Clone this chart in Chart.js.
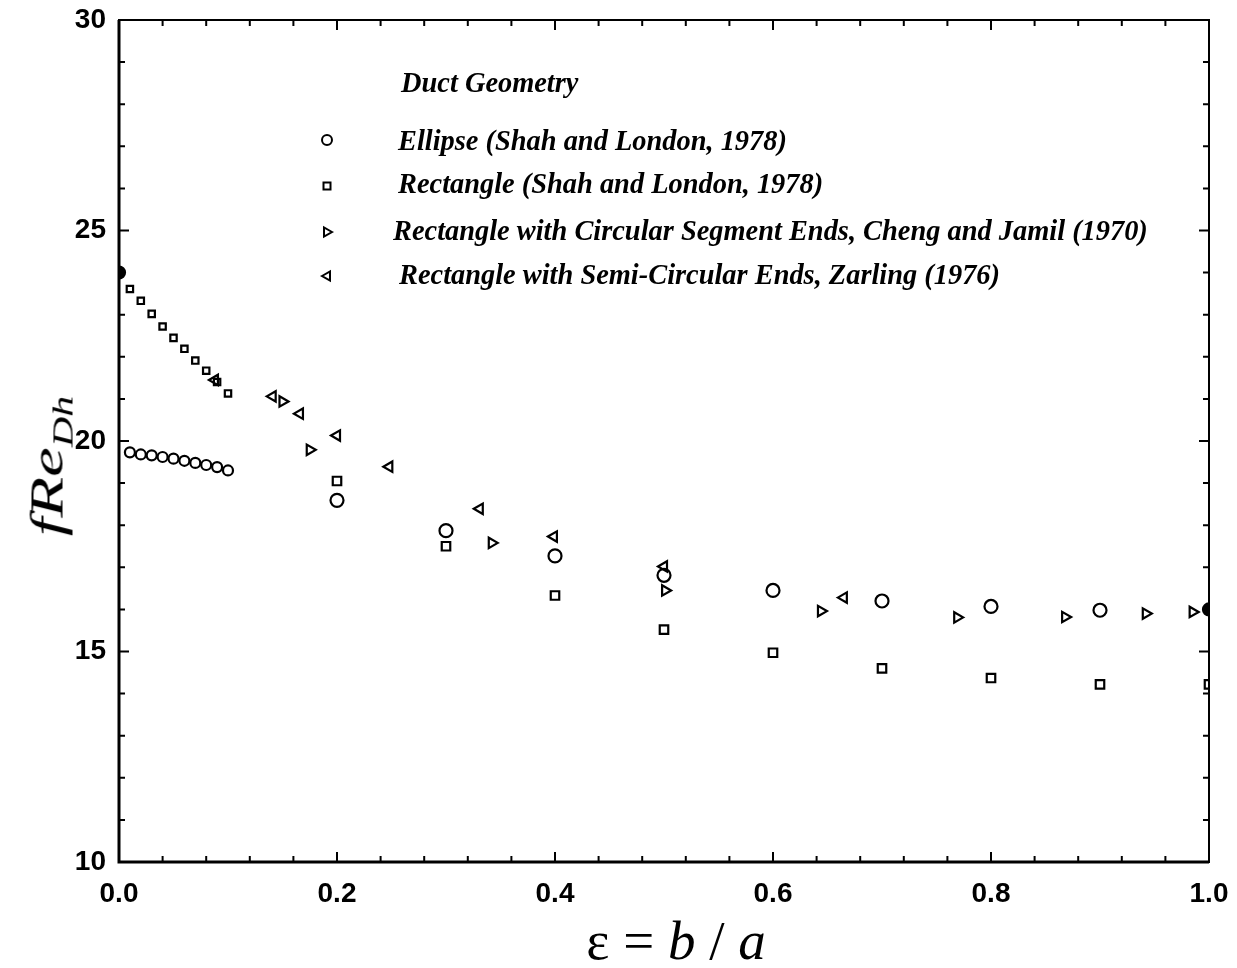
<!DOCTYPE html>
<html>
<head>
<meta charset="utf-8">
<script src="https://cdn.jsdelivr.net/npm/chart.js@4/dist/chart.umd.min.js"></script>
<style>
  body { margin: 0; background: #fff; }
  #wrap { position: relative; width: 1237px; height: 968px; }
  .leg { position: absolute; font: italic bold 28.4px "Liberation Serif", serif; line-height: 30px; white-space: nowrap; color: #000; }
  #ytitle { position: absolute; left: 50px; top: 466px; white-space: nowrap;
    font: italic 46px "Liberation Serif", serif; transform: translate(-50%, -50%) rotate(-90deg) scale(1.45, 1); }
  #ytitle sub { font-size: 29px; vertical-align: -10px; }
  #xtitle { position: absolute; left: 676px; top: 940px; white-space: nowrap;
    font: 55px "Liberation Serif", serif; transform: translate(-50%, -50%); }
</style>
</head>
<body>
<div id="wrap">
  <canvas id="chart"></canvas>
  <div class="leg" style="left:401px; top:68px;">Duct Geometry</div>
  <div class="leg" style="left:398px; top:126px;">Ellipse (Shah and London, 1978)</div>
  <div class="leg" style="left:398px; top:169px;">Rectangle (Shah and London, 1978)</div>
  <div class="leg" style="left:393px; top:216px;">Rectangle with Circular Segment Ends, Cheng and Jamil (1970)</div>
  <div class="leg" style="left:399px; top:260px;">Rectangle with Semi-Circular Ends, Zarling (1976)</div>
  <div id="ytitle"><i>fRe</i><sub><i>Dh</i></sub></div>
  <div id="xtitle">ε = <i>b</i> / <i>a</i></div>
</div>
<script>
// données
const ellipseX = [0.01, 0.02, 0.03, 0.04, 0.05, 0.06, 0.07, 0.08, 0.09, 0.10, 0.2, 0.3, 0.4, 0.5, 0.6, 0.7, 0.8, 0.9];
const ellipseY = [19.73, 19.68, 19.66, 19.62, 19.58, 19.53, 19.48, 19.43, 19.38, 19.30, 18.59, 17.87, 17.27, 16.81, 16.45, 16.20, 16.07, 15.98];

const rectX = [0.01, 0.02, 0.03, 0.04, 0.05, 0.06, 0.07, 0.08, 0.09, 0.10, 0.2, 0.3, 0.4, 0.5, 0.6, 0.7, 0.8, 0.9, 1.0];
const rectY = [23.61, 23.33, 23.02, 22.72, 22.45, 22.19, 21.91, 21.67, 21.40, 21.13, 19.05, 17.50, 16.33, 15.52, 14.97, 14.60, 14.37, 14.22, 14.22];

const chengX = [0.150, 0.175, 0.342, 0.501, 0.644, 0.769, 0.868, 0.942, 0.985];
const chengY = [20.94, 19.79, 17.58, 16.45, 15.96, 15.81, 15.82, 15.90, 15.94];

const zarlingX = [0.088, 0.141, 0.166, 0.200, 0.248, 0.331, 0.399, 0.500, 0.665];
const zarlingY = [21.45, 21.06, 20.65, 20.13, 19.39, 18.39, 17.73, 17.02, 16.28];

const limitX = [0.0, 1.0];
const limitY = [24.0, 16.0];

const xTicks = [0.0, 0.2, 0.4, 0.6, 0.8, 1.0];
const yTicks = [10, 15, 20, 25, 30];

function points(xs, ys) {
  return xs.map((x, i) => ({ x: x, y: ys[i] }));
}

// cadre + graduations vers l'intérieur sur les 4 côtés
const frameTicks = {
  id: "frameTicks",
  afterDraw(chart) {
    const { ctx, chartArea: a, scales } = chart;
    const x = scales.x, y = scales.y;
    ctx.save();
    ctx.strokeStyle = "#000";
    ctx.lineWidth = 2;
    ctx.strokeRect(a.left, a.top, a.right - a.left, a.bottom - a.top);
    ctx.lineWidth = 3;
    ctx.beginPath();
    ctx.moveTo(a.left, a.top);
    ctx.lineTo(a.left, a.bottom);
    ctx.lineTo(a.right, a.bottom);
    ctx.stroke();
    ctx.lineWidth = 2;
    ctx.beginPath();
    for (let i = 0; i <= 25; i++) {
      const px = x.getPixelForValue(i / 25);
      const len = i % 5 === 0 ? 10 : 6;
      ctx.moveTo(px, a.bottom); ctx.lineTo(px, a.bottom - len);
      ctx.moveTo(px, a.top); ctx.lineTo(px, a.top + len);
    }
    for (let v = 10; v <= 30; v++) {
      const py = y.getPixelForValue(v);
      const len = v % 5 === 0 ? 10 : 6;
      ctx.moveTo(a.left, py); ctx.lineTo(a.left + len, py);
      ctx.moveTo(a.right, py); ctx.lineTo(a.right - len, py);
    }
    ctx.stroke();

    // symboles de la légende
    ctx.lineWidth = 2;
    const lx = 327;
    ctx.beginPath();
    ctx.arc(lx, 140, 5, 0, Math.PI * 2);
    ctx.stroke();
    ctx.strokeRect(lx - 3.5, 182.5, 7, 7);
    ctx.beginPath();
    ctx.moveTo(lx + 5, 232); ctx.lineTo(lx - 3, 227.5); ctx.lineTo(lx - 3, 236.5); ctx.closePath();
    ctx.stroke();
    ctx.beginPath();
    ctx.moveTo(lx - 5, 276); ctx.lineTo(lx + 3, 271.5); ctx.lineTo(lx + 3, 280.5); ctx.closePath();
    ctx.stroke();
    ctx.restore();
  }
};

const base = {
  showLine: false,
  borderColor: "#000",
  backgroundColor: "rgba(0,0,0,0)",
  borderWidth: 2.2,
};

new Chart(document.getElementById("chart"), {
  type: "scatter",
  data: {
    datasets: [
      { ...base, label: "Ellipse (Shah and London, 1978)", data: points(ellipseX, ellipseY),
        pointStyle: "circle", pointRadius: (c) => (c.raw && c.raw.x <= 0.1 ? 5 : 6.5) },
      { ...base, label: "Rectangle (Shah and London, 1978)", data: points(rectX, rectY),
        pointStyle: "rect", pointRadius: (c) => (c.raw && c.raw.x <= 0.1 ? 4.5 : 6) },
      { ...base, label: "Rectangle with Circular Segment Ends, Cheng and Jamil (1970)", data: points(chengX, chengY),
        pointStyle: "triangle", rotation: 90, pointRadius: 6 },
      { ...base, label: "Rectangle with Semi-Circular Ends, Zarling (1976)", data: points(zarlingX, zarlingY),
        pointStyle: "triangle", rotation: 270, pointRadius: 6 },
      { ...base, label: "limites", data: points(limitX, limitY), backgroundColor: "#000",
        pointStyle: "circle", pointRadius: 6 },
    ],
  },
  options: {
    responsive: true,
    maintainAspectRatio: false,
    animation: false,
    layout: { padding: { top: 20, right: 28, left: 0, bottom: 0 } },
    plugins: { legend: { display: false }, tooltip: { enabled: false } },
    scales: {
      x: {
        type: "linear", min: 0, max: 1,
        afterFit: (s) => { s.height = 106; s.paddingLeft = 0; s.paddingRight = 0; },
        afterBuildTicks: (s) => { s.ticks = xTicks.map((v) => ({ value: v })); },
        grid: { display: false, drawTicks: false },
        border: { display: false },
        ticks: { padding: 15, color: "#000", font: { family: "Liberation Sans", weight: "bold", size: 28 },
          callback: (v) => Number(v).toFixed(1) },
      },
      y: {
        type: "linear", min: 10, max: 30,
        afterFit: (s) => { s.width = 119; s.paddingTop = 0; s.paddingBottom = 0; },
        afterBuildTicks: (s) => { s.ticks = yTicks.map((v) => ({ value: v })); },
        grid: { display: false, drawTicks: false },
        border: { display: false },
        ticks: { padding: 13, color: "#000", font: { family: "Liberation Sans", weight: "bold", size: 28 } },
      },
    },
  },
  plugins: [frameTicks],
});
</script>
</body>
</html>
